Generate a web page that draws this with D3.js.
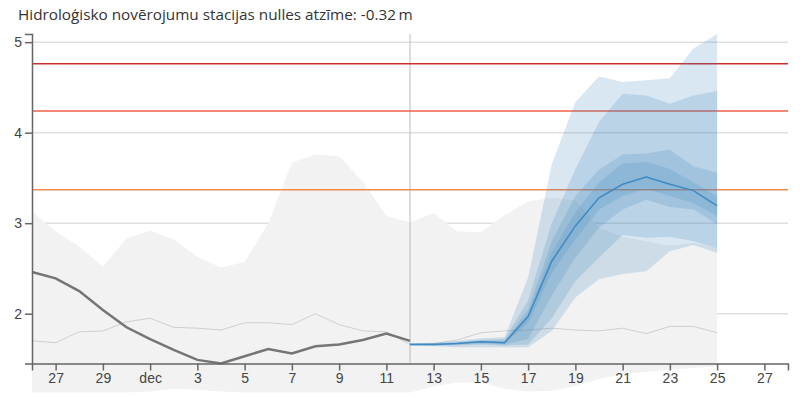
<!DOCTYPE html>
<html>
<head>
<meta charset="utf-8">
<script src="https://d3js.org/d3.v7.min.js"></script>
<style>
  body { margin: 0; background: #fff; }
  svg { display: block; }
</style>
</head>
<body>
<script>
  // chart values (m)
  var title = "Hidroloģisko novērojumu stacijas nulles atzīme: -0.32\u2009m";
  var firstDay = new Date(2023, 10, 26);   // 26 Nov
  var lastDay = new Date(2023, 11, 28);    // axis end
  var forecastStart = new Date(2023, 11, 12);

  // observed level, 26 Nov .. 12 Dec
  var observed = [2.46, 2.39, 2.25, 2.04, 1.85, 1.72, 1.60, 1.49, 1.45, 1.53, 1.61, 1.56, 1.64, 1.66, 1.71, 1.78, 1.70];

  // climatology 26 Nov .. 25 Dec
  var climMax = [3.13, 2.91, 2.74, 2.52, 2.83, 2.92, 2.82, 2.63, 2.51, 2.57, 3.00, 3.67, 3.76, 3.74, 3.46, 3.08,
                 3.01, 3.11, 2.91, 2.90, 3.09, 3.24, 3.28, 3.25, 2.95, 2.85, 2.80, 2.75, 2.78, 2.72];
  var climMin = [1.13, 1.13, 1.13, 1.13, 1.13, 1.14, 1.17, 1.16, 1.14, 1.13, 1.13, 1.13, 1.13, 1.13, 1.13, 1.13,
                 1.13, 1.20, 1.24, 1.24, 1.17, 1.14, 1.15, 1.20, 1.28, 1.33, 1.36, 1.38, 1.40, 1.42];
  var climMed = [1.70, 1.68, 1.80, 1.81, 1.91, 1.95, 1.85, 1.84, 1.82, 1.90, 1.90, 1.88, 2.00, 1.88, 1.81, 1.80,
                 1.66, 1.67, 1.71, 1.79, 1.81, 1.82, 1.84, 1.82, 1.81, 1.84, 1.78, 1.86, 1.86, 1.79];

  // forecast 12 Dec .. 25 Dec
  var fcMedian = [1.66, 1.66, 1.67, 1.69, 1.68, 1.97, 2.58, 2.97, 3.28, 3.43, 3.51, 3.43, 3.36, 3.19];
  var fcBands = [
    { lo: [1.65, 1.64, 1.63, 1.63, 1.63, 1.63, 1.81, 2.18, 2.38, 2.44, 2.47, 2.69, 2.76, 2.67],
      hi: [1.67, 1.68, 1.70, 1.73, 1.74, 2.40, 3.65, 4.34, 4.62, 4.56, 4.58, 4.60, 4.93, 5.09] },
    { lo: [1.65, 1.65, 1.65, 1.66, 1.65, 1.66, 1.95, 2.36, 2.62, 2.87, 2.84, 2.85, 2.80, 2.72],
      hi: [1.67, 1.67, 1.69, 1.71, 1.72, 2.15, 3.00, 3.60, 4.12, 4.43, 4.41, 4.32, 4.41, 4.46] },
    { lo: [1.66, 1.65, 1.66, 1.67, 1.66, 1.72, 2.20, 2.62, 2.95, 3.15, 3.26, 3.18, 3.15, 2.99],
      hi: [1.67, 1.67, 1.68, 1.70, 1.70, 2.05, 2.80, 3.30, 3.59, 3.76, 3.77, 3.81, 3.63, 3.56] },
    { lo: [1.66, 1.66, 1.67, 1.68, 1.67, 1.90, 2.45, 2.82, 3.15, 3.30, 3.38, 3.30, 3.22, 3.08],
      hi: [1.67, 1.67, 1.68, 1.70, 1.69, 2.00, 2.68, 3.12, 3.45, 3.66, 3.68, 3.60, 3.45, 3.30] }
  ];

  // warning levels
  var levels = [4.76, 4.24, 3.37];
  var levelColors = ["#c9302c", "#f0604a", "#f5894a"];

  var yTicks = [2, 3, 4, 5];
  var monthNames = ["jan", "feb", "mar", "apr", "mai", "jūn", "jūl", "aug", "sep", "okt", "nov", "dec"];

  var width = 800, height = 398;
  var margin = {top: 34, right: 12, bottom: 34.5, left: 32};

  var svg = d3.select("body").append("svg")
    .attr("width", width)
    .attr("height", height);

  var obsDates = d3.timeDay.range(firstDay, d3.timeDay.offset(firstDay, observed.length));
  var climDates = d3.timeDay.range(firstDay, d3.timeDay.offset(firstDay, climMax.length));
  var fcDates = d3.timeDay.range(forecastStart, d3.timeDay.offset(forecastStart, fcMedian.length));

  var x = d3.scaleTime()
    .domain([firstDay, lastDay])
    .range([margin.left, width - margin.right]);

  var yMin = d3.min(observed.concat(fcBands[0].lo));
  var yMax = d3.max(observed.concat(fcBands[0].hi));
  var y = d3.scaleLinear()
    .domain([yMin, yMax])
    .range([height - margin.bottom, margin.top]);

  // grid
  svg.append("g")
    .selectAll("line")
    .data(yTicks)
    .enter().append("line")
    .attr("x1", margin.left)
    .attr("x2", width - margin.right)
    .attr("y1", function(d) { return y(d); })
    .attr("y2", function(d) { return y(d); })
    .attr("stroke", "#e0e0e0")
    .attr("stroke-width", 1.5);

  // climatology band
  var climArea = d3.area()
    .x(function(d, i) { return x(climDates[i]); })
    .y0(function(d, i) { return y(climMin[i]); })
    .y1(function(d) { return y(d); });

  svg.append("path")
    .datum(climMax)
    .attr("d", climArea)
    .attr("fill", "#f2f2f2");

  svg.append("path")
    .datum(climMed)
    .attr("d", d3.line().x(function(d, i) { return x(climDates[i]); }).y(function(d) { return y(d); }))
    .attr("fill", "none")
    .attr("stroke", "#cfcfcf")
    .attr("stroke-width", 1);

  // forecast start marker
  svg.append("line")
    .attr("x1", x(forecastStart))
    .attr("x2", x(forecastStart))
    .attr("y1", margin.top)
    .attr("y2", height - margin.bottom)
    .attr("stroke", "#bbb")
    .attr("stroke-width", 1);

  // warning levels
  svg.append("g")
    .selectAll("line")
    .data(levels)
    .enter().append("line")
    .attr("x1", margin.left)
    .attr("x2", width - margin.right)
    .attr("y1", function(d) { return y(d); })
    .attr("y2", function(d) { return y(d); })
    .attr("stroke", function(d, i) { return levelColors[i]; })
    .attr("stroke-width", 1.5);

  // forecast bands
  svg.append("g")
    .selectAll("path")
    .data(fcBands)
    .enter().append("path")
    .attr("d", function(b) {
      return d3.area()
        .x(function(d, i) { return x(fcDates[i]); })
        .y0(function(d, i) { return y(b.lo[i]); })
        .y1(function(d) { return y(d); })(b.hi);
    })
    .attr("fill", "#3f86bd")
    .attr("fill-opacity", 0.2);

  svg.append("path")
    .datum(observed)
    .attr("d", d3.line().x(function(d, i) { return x(obsDates[i]); }).y(function(d) { return y(d); }))
    .attr("fill", "none")
    .attr("stroke", "#757575")
    .attr("stroke-width", 2.5);

  svg.append("path")
    .datum(fcMedian)
    .attr("d", d3.line().x(function(d, i) { return x(fcDates[i]); }).y(function(d) { return y(d); }))
    .attr("fill", "none")
    .attr("stroke", "#3d8ac4")
    .attr("stroke-width", 1.5);

  // axes
  var xAxis = d3.axisBottom(x)
    .ticks(d3.timeDay.every(2))
    .tickSize(7)
    .tickSizeOuter(7)
    .tickFormat(function(d) {
      return d.getDate() === 1 ? monthNames[d.getMonth()] : d.getDate();
    });

  var yAxis = d3.axisLeft(y)
    .tickValues(yTicks)
    .tickFormat(d3.format("d"))
    .tickSize(7)
    .tickSizeOuter(7);

  var gx = svg.append("g")
    .attr("transform", "translate(0," + (height - margin.bottom) + ")")
    .call(xAxis);

  var gy = svg.append("g")
    .attr("transform", "translate(" + margin.left + ",0)")
    .call(yAxis);

  [gx, gy].forEach(function(g) {
    g.selectAll(".domain, .tick line").attr("stroke", "#666").attr("stroke-width", 1.5);
    g.selectAll("text")
      .attr("fill", "#444")
      .style("font-family", "'Liberation Sans', Arial, sans-serif")
      .style("font-size", "14px");
  });

  svg.append("text")
    .attr("x", 18)
    .attr("y", 20)
    .attr("fill", "#333")
    .style("font-family", "'Open Sans', sans-serif")
    .style("font-size", "15.3px")
    .text(title);
</script>
</body>
</html>
